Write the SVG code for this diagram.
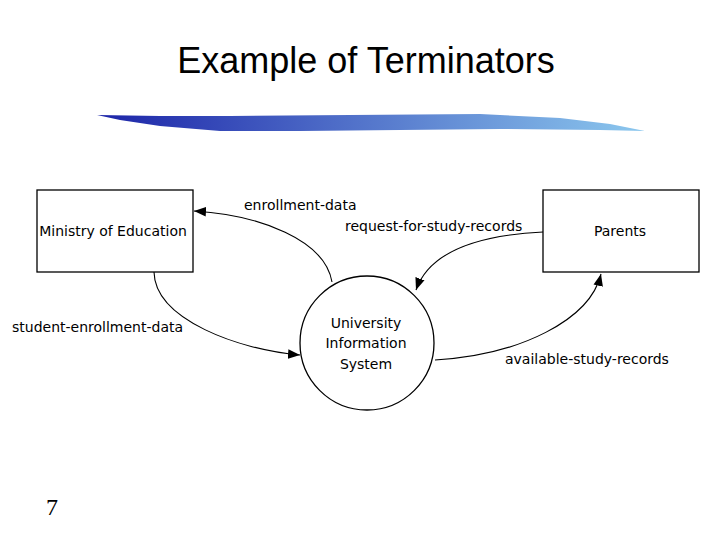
<svg xmlns="http://www.w3.org/2000/svg" width="720" height="540" viewBox="0 0 720 540">
<style>
.box{fill:#fff;stroke:#000;stroke-width:1.3}
.t{font-family:"DejaVu Sans",sans-serif;font-size:14px;fill:#000}
.c{fill:none;stroke:#000;stroke-width:1.1;marker-end:url(#ah)}
</style>
<defs>
<marker id="ah" viewBox="0 0 10 10" refX="10" refY="5" markerWidth="12" markerHeight="12" markerUnits="userSpaceOnUse" orient="auto"><path d="M0,1 L10,5 L0,9 z" fill="#000"/></marker>
<linearGradient id="g" x1="0" x2="1" y1="0" y2="0"><stop offset="0" stop-color="#1c24a8"/><stop offset="0.5" stop-color="#5577cc"/><stop offset="1" stop-color="#8cc8ee"/></linearGradient>
</defs>
<rect width="720" height="540" fill="#fff"/>
<text x="366" y="73" text-anchor="middle" font-family="Liberation Sans,sans-serif" font-size="36">Example of Terminators</text>
<path d="M97,115 L160,116 L230,116 L350,115 L480,114 L560,118 L610,124 L645,131 L600,130 L500,129 L400,130 L300,131 L220,131 L160,126 L120,120 Z" fill="url(#g)"/>
<g id="ministry"><rect class="box" x="37" y="190" width="156" height="82"/><text class="t" x="113" y="236" text-anchor="middle">Ministry of Education</text></g>
<g id="parents"><rect class="box" x="543" y="190" width="156" height="82"/><text class="t" x="620" y="236" text-anchor="middle">Parents</text></g>
<g id="uis"><circle class="box" cx="367" cy="343" r="67"/>
<text class="t" x="366" y="328" text-anchor="middle">University</text>
<text class="t" x="366" y="348" text-anchor="middle">Information</text>
<text class="t" x="366" y="369" text-anchor="middle">System</text></g>
<g id="connectors">
<path class="c" d="M332,282 C325,240 260,215 194,211"/>
<path class="c" d="M543,232 C480,235 430,250 416,290"/>
<path class="c" d="M154,272 C155,320 240,350 300,355"/>
<path class="c" d="M435,360 C520,355 590,320 601,274"/>
</g>
<text class="t" x="244" y="210">enrollment-data</text>
<text class="t" x="345" y="231">request-for-study-records</text>
<text class="t" x="12" y="332">student-enrollment-data</text>
<text class="t" x="505" y="364">available-study-records</text>
<text x="52" y="515" text-anchor="middle" font-family="Liberation Serif,serif" font-size="24">7</text>
</svg>
